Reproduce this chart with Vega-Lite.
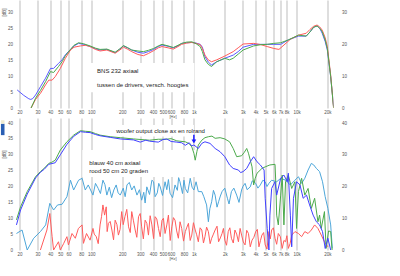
{
 "$schema": "https://vega.github.io/schema/vega-lite/v6.json",
 "background": "white",
 "padding": {"left": 0.5, "top": 0, "right": 0, "bottom": 0},
 "spacing": 10,
 "bounds": "flush",
 "resolve": {"scale": {"color": "independent"}},
 "config": {
  "view": {"stroke": null},
  "font": "Liberation Sans",
  "axis": {"gridColor": "#c8c8c8", "gridWidth": 1.2, "domain": false, "ticks": false, "labelFontSize": 4.5, "labelColor": "#555555", "titleFontSize": 4.5, "titleFontWeight": "normal", "titleColor": "#555555", "labelFont": "Liberation Sans", "titleFont": "Liberation Sans", "labelOverlap": false, "labelFlush": false}
 },
 "datasets": {
  "top": [
   {"s":"b","f":19,"v":5.7},{"s":"b","f":22,"v":4.0},{"s":"b","f":24.7,"v":2.9},{"s":"b","f":25.8,"v":2.7},{"s":"b","f":27,"v":3.0},{"s":"b","f":28.7,"v":4.1},{"s":"b","f":32,"v":6.7},{"s":"b","f":35.9,"v":9.4},{"s":"b","f":40.1,"v":12.5},{"s":"b","f":43,"v":12.5},{"s":"b","f":48,"v":14.1},{"s":"b","f":52,"v":15.2},{"s":"b","f":56,"v":16.8},{"s":"b","f":62.8,"v":18.5},{"s":"b","f":68,"v":19.6},{"s":"b","f":75.3,"v":20.4},{"s":"b","f":84,"v":20.1},{"s":"b","f":97.5,"v":19.4},{"s":"b","f":110,"v":18.7},{"s":"b","f":122,"v":18.3},{"s":"b","f":142,"v":18.5},{"s":"b","f":155,"v":18.0},{"s":"b","f":171,"v":17.5},{"s":"b","f":190,"v":18.6},{"s":"b","f":206,"v":19.6},{"s":"b","f":225,"v":19.0},{"s":"b","f":248,"v":18.3},{"s":"b","f":285,"v":17.6},{"s":"b","f":322,"v":17.3},{"s":"b","f":360,"v":17.8},{"s":"b","f":405,"v":18.5},{"s":"b","f":450,"v":19.4},{"s":"b","f":489,"v":19.9},{"s":"b","f":560,"v":19.5},{"s":"b","f":631,"v":19.0},{"s":"b","f":700,"v":19.6},{"s":"b","f":761,"v":20.4},{"s":"b","f":850,"v":20.6},{"s":"b","f":954,"v":20.7},{"s":"b","f":1050,"v":20.5},{"s":"b","f":1152,"v":20.1},{"s":"b","f":1210,"v":19.2},{"s":"b","f":1282,"v":16.2},{"s":"b","f":1380,"v":14.5},{"s":"b","f":1485,"v":13.6},{"s":"b","f":1668,"v":14.6},{"s":"b","f":2001,"v":15.7},{"s":"b","f":2415,"v":16.7},{"s":"b","f":2700,"v":17.8},{"s":"b","f":3012,"v":19.2},{"s":"b","f":3818,"v":20.1},{"s":"b","f":4500,"v":20.1},{"s":"b","f":5178,"v":20.1},{"s":"b","f":6000,"v":20.1},{"s":"b","f":7006,"v":20.1},{"s":"b","f":8314,"v":21.5},{"s":"b","f":10437,"v":22.7},{"s":"b","f":12420,"v":22.7},{"s":"b","f":13500,"v":24.0},{"s":"b","f":14670,"v":25.5},{"s":"b","f":15840,"v":25.9},{"s":"b","f":16800,"v":25.2},{"s":"b","f":17770,"v":23.6},{"s":"b","f":19000,"v":21.0},{"s":"b","f":19940,"v":18.3},{"s":"b","f":21500,"v":9.9},{"s":"b","f":22950,"v":0.4},
   {"s":"r","f":25.5,"v":-0.5},{"s":"r","f":28.7,"v":2.7},{"s":"r","f":32,"v":4.6},{"s":"r","f":35.9,"v":7.3},{"s":"r","f":38.6,"v":8.8},{"s":"r","f":41.6,"v":8.8},{"s":"r","f":44.6,"v":9.9},{"s":"r","f":50,"v":12.5},{"s":"r","f":56,"v":15.7},{"s":"r","f":62.8,"v":18.3},{"s":"r","f":68,"v":19.2},{"s":"r","f":78.6,"v":19.6},{"s":"r","f":88,"v":19.8},{"s":"r","f":97.5,"v":19.4},{"s":"r","f":110,"v":18.5},{"s":"r","f":122,"v":18.0},{"s":"r","f":142,"v":18.3},{"s":"r","f":171,"v":17.3},{"s":"r","f":190,"v":18.3},{"s":"r","f":206,"v":19.2},{"s":"r","f":225,"v":18.6},{"s":"r","f":248,"v":17.8},{"s":"r","f":285,"v":16.9},{"s":"r","f":322,"v":16.5},{"s":"r","f":360,"v":17.2},{"s":"r","f":405,"v":18.1},{"s":"r","f":450,"v":19.0},{"s":"r","f":489,"v":19.4},{"s":"r","f":560,"v":19.0},{"s":"r","f":631,"v":18.6},{"s":"r","f":700,"v":19.4},{"s":"r","f":761,"v":20.1},{"s":"r","f":850,"v":20.5},{"s":"r","f":954,"v":20.7},{"s":"r","f":1050,"v":20.4},{"s":"r","f":1152,"v":20.0},{"s":"r","f":1210,"v":18.8},{"s":"r","f":1282,"v":16.7},{"s":"r","f":1380,"v":15.2},{"s":"r","f":1485,"v":14.6},{"s":"r","f":1668,"v":15.2},{"s":"r","f":2001,"v":16.4},{"s":"r","f":2415,"v":17.8},{"s":"r","f":2700,"v":19.0},{"s":"r","f":3012,"v":20.2},{"s":"r","f":3818,"v":20.4},{"s":"r","f":4500,"v":20.0},{"s":"r","f":5178,"v":19.4},{"s":"r","f":6000,"v":18.8},{"s":"r","f":6740,"v":18.5},{"s":"r","f":7550,"v":19.9},{"s":"r","f":8700,"v":21.7},{"s":"r","f":10437,"v":23.0},{"s":"r","f":12420,"v":23.6},{"s":"r","f":13500,"v":24.8},{"s":"r","f":14670,"v":25.8},{"s":"r","f":15840,"v":26.2},{"s":"r","f":16800,"v":25.6},{"s":"r","f":17770,"v":24.6},{"s":"r","f":19000,"v":22.2},{"s":"r","f":19940,"v":19.4},{"s":"r","f":21500,"v":10.4},{"s":"r","f":22950,"v":0},
   {"s":"g","f":25.5,"v":-0.5},{"s":"g","f":28.7,"v":3.1},{"s":"g","f":32,"v":5.5},{"s":"g","f":35.9,"v":8.3},{"s":"g","f":40.1,"v":11.5},{"s":"g","f":43,"v":11.2},{"s":"g","f":48,"v":13.1},{"s":"g","f":52,"v":14.6},{"s":"g","f":56,"v":16.5},{"s":"g","f":62.8,"v":18.5},{"s":"g","f":68,"v":19.8},{"s":"g","f":75.3,"v":20.6},{"s":"g","f":84,"v":20.3},{"s":"g","f":97.5,"v":19.6},{"s":"g","f":110,"v":18.9},{"s":"g","f":122,"v":18.5},{"s":"g","f":142,"v":18.6},{"s":"g","f":171,"v":17.6},{"s":"g","f":190,"v":18.7},{"s":"g","f":206,"v":19.7},{"s":"g","f":225,"v":19.1},{"s":"g","f":248,"v":18.3},{"s":"g","f":285,"v":18.0},{"s":"g","f":322,"v":17.8},{"s":"g","f":360,"v":18.2},{"s":"g","f":405,"v":18.8},{"s":"g","f":450,"v":19.6},{"s":"g","f":489,"v":20.1},{"s":"g","f":560,"v":19.6},{"s":"g","f":631,"v":19.1},{"s":"g","f":700,"v":19.8},{"s":"g","f":761,"v":20.4},{"s":"g","f":850,"v":20.8},{"s":"g","f":954,"v":20.9},{"s":"g","f":1050,"v":20.3},{"s":"g","f":1152,"v":19.4},{"s":"g","f":1210,"v":17.8},{"s":"g","f":1282,"v":15.2},{"s":"g","f":1380,"v":13.8},{"s":"g","f":1485,"v":13.1},{"s":"g","f":1668,"v":14.6},{"s":"g","f":2001,"v":15.7},{"s":"g","f":2220,"v":15.2},{"s":"g","f":2415,"v":15.7},{"s":"g","f":2700,"v":17.0},{"s":"g","f":3012,"v":18.3},{"s":"g","f":3818,"v":19.6},{"s":"g","f":4500,"v":20.0},{"s":"g","f":5178,"v":20.1},{"s":"g","f":6000,"v":20.4},{"s":"g","f":7006,"v":20.6},{"s":"g","f":8314,"v":21.5},{"s":"g","f":10437,"v":23.0},{"s":"g","f":12420,"v":22.7},{"s":"g","f":13500,"v":24.0},{"s":"g","f":14670,"v":25.5},{"s":"g","f":15840,"v":25.9},{"s":"g","f":16800,"v":25.2},{"s":"g","f":17770,"v":24.1},{"s":"g","f":19000,"v":21.5},{"s":"g","f":19940,"v":18.8},{"s":"g","f":21500,"v":9.9},{"s":"g","f":22950,"v":0}
  ],
  "bot": [
   {"s":"lb","f":18.7,"v":5.2},{"s":"lb","f":21.2,"v":6.3},{"s":"lb","f":23.8,"v":0},{"s":"lb","f":27.5,"v":3.7},{"s":"lb","f":32,"v":5.8},{"s":"lb","f":36,"v":7.9},{"s":"lb","f":39.5,"v":14.7},{"s":"lb","f":43,"v":12.6},{"s":"lb","f":47,"v":14.2},{"s":"lb","f":52,"v":14.4},{"s":"lb","f":58,"v":16.8},{"s":"lb","f":62.8,"v":22.0},{"s":"lb","f":67.4,"v":18.9},{"s":"lb","f":75.3,"v":22.0},{"s":"lb","f":81.5,"v":22.6},{"s":"lb","f":87.5,"v":18.9},{"s":"lb","f":93.5,"v":20.5},{"s":"lb","f":104,"v":17.3},{"s":"lb","f":117,"v":19.4},{"s":"lb","f":130,"v":22.0},{"s":"lb","f":142,"v":17.3},{"s":"lb","f":166,"v":18.9},{"s":"lb","f":192,"v":17.3},{"s":"lb","f":223,"v":20.5},{"s":"lb","f":248,"v":18.9},{"s":"lb","f":279,"v":17.3},{"s":"lb","f":310,"v":15.7},{"s":"lb","f":348,"v":19.9},{"s":"lb","f":390,"v":22.0},{"s":"lb","f":419,"v":16.8},{"s":"lb","f":470,"v":19.9},{"s":"lb","f":524,"v":21.5},{"s":"lb","f":586,"v":17.9},{"s":"lb","f":655,"v":20.5},{"s":"lb","f":732,"v":21.5},{"s":"lb","f":825,"v":19.4},{"s":"lb","f":921,"v":22.6},{"s":"lb","f":1000,"v":18.9},{"s":"lb","f":1050,"v":21.5},{"s":"lb","f":1105,"v":18.4},{"s":"lb","f":1194,"v":18.4},{"s":"lb","f":1330,"v":14.2},{"s":"lb","f":1384,"v":8.9},{"s":"lb","f":1490,"v":15.2},{"s":"lb","f":1610,"v":17.3},{"s":"lb","f":1740,"v":15.2},{"s":"lb","f":1880,"v":18.4},{"s":"lb","f":2120,"v":16.3},{"s":"lb","f":2320,"v":18.4},{"s":"lb","f":2610,"v":17.3},{"s":"lb","f":2915,"v":18.9},{"s":"lb","f":3150,"v":21.0},{"s":"lb","f":3540,"v":19.9},{"s":"lb","f":4000,"v":21.0},{"s":"lb","f":4440,"v":20.5},{"s":"lb","f":4950,"v":21.5},{"s":"lb","f":5380,"v":21.0},{"s":"lb","f":5720,"v":22.0},{"s":"lb","f":6400,"v":21.5},{"s":"lb","f":7006,"v":22.6},{"s":"lb","f":7810,"v":22.0},{"s":"lb","f":8700,"v":20.5},{"s":"lb","f":9650,"v":22.0},{"s":"lb","f":10430,"v":23.1},{"s":"lb","f":11200,"v":21.0},{"s":"lb","f":12030,"v":22.6},{"s":"lb","f":12950,"v":25.2},{"s":"lb","f":13930,"v":27.3},{"s":"lb","f":14700,"v":26.8},{"s":"lb","f":15600,"v":25.7},{"s":"lb","f":16760,"v":24.7},{"s":"lb","f":17900,"v":21.5},{"s":"lb","f":19000,"v":16.8},{"s":"lb","f":20200,"v":13.1},{"s":"lb","f":21500,"v":7.9},{"s":"lb","f":22300,"v":0.5},
   {"s":"lb","f":110,"v":21.0},{"s":"lb","f":123,"v":17.8},{"s":"lb","f":136,"v":20.6},{"s":"lb","f":150,"v":19.8},{"s":"lb","f":158,"v":16.5},{"s":"lb","f":175,"v":20.5},{"s":"lb","f":183,"v":18.0},{"s":"lb","f":205,"v":19.5},{"s":"lb","f":214,"v":16.8},{"s":"lb","f":235,"v":21.3},{"s":"lb","f":262,"v":20.2},{"s":"lb","f":295,"v":19.0},{"s":"lb","f":325,"v":18.2},{"s":"lb","f":335,"v":14.8},{"s":"lb","f":370,"v":17.5},{"s":"lb","f":405,"v":21.5},{"s":"lb","f":440,"v":18.0},{"s":"lb","f":455,"v":21.0},{"s":"lb","f":495,"v":17.2},{"s":"lb","f":545,"v":19.0},{"s":"lb","f":565,"v":22.2},{"s":"lb","f":620,"v":16.5},{"s":"lb","f":690,"v":18.8},{"s":"lb","f":710,"v":22.8},{"s":"lb","f":775,"v":17.8},{"s":"lb","f":800,"v":22.0},{"s":"lb","f":870,"v":18.0},{"s":"lb","f":960,"v":19.8},{"s":"lb","f":1250,"v":16.8},{"s":"lb","f":1430,"v":13.0},{"s":"lb","f":1550,"v":18.8},{"s":"lb","f":1680,"v":13.5},{"s":"lb","f":1810,"v":17.0},{"s":"lb","f":2000,"v":19.5},{"s":"lb","f":2200,"v":14.5},{"s":"lb","f":2450,"v":19.5},{"s":"lb","f":2750,"v":15.0},{"s":"lb","f":3000,"v":20.0},{"s":"lb","f":3300,"v":19.0},{"s":"lb","f":3700,"v":21.8},{"s":"lb","f":4200,"v":19.5},{"s":"lb","f":4700,"v":22.0},{"s":"lb","f":5150,"v":20.0},
   {"s":"r","f":32,"v":0},{"s":"r","f":37,"v":6.3},{"s":"r","f":39.5,"v":11.5},{"s":"r","f":41.6,"v":4.2},{"s":"r","f":43,"v":0},{"s":"r","f":48,"v":2.6},{"s":"r","f":50,"v":0},{"s":"r","f":54,"v":2.1},{"s":"r","f":58,"v":4.2},{"s":"r","f":60,"v":1.6},{"s":"r","f":65,"v":5.2},{"s":"r","f":70,"v":3.7},{"s":"r","f":75,"v":6.8},{"s":"r","f":81.5,"v":7.9},{"s":"r","f":84,"v":2.1},{"s":"r","f":90,"v":5.2},{"s":"r","f":97.5,"v":3.1},{"s":"r","f":104,"v":6.8},{"s":"r","f":112,"v":4.2},{"s":"r","f":122,"v":7.9},{"s":"r","f":130,"v":14.2},{"s":"r","f":140,"v":13.6},{"s":"r","f":147,"v":8.4},{"s":"r","f":159,"v":6.3},{"s":"r","f":171,"v":9.4},{"s":"r","f":184,"v":4.7},{"s":"r","f":198,"v":12.1},{"s":"r","f":213,"v":10.5},{"s":"r","f":231,"v":7.3},{"s":"r","f":248,"v":12.1},{"s":"r","f":268,"v":6.3},{"s":"r","f":289,"v":10.5},{"s":"r","f":310,"v":7.3},{"s":"r","f":335,"v":9.4},{"s":"r","f":361,"v":4.7},{"s":"r","f":390,"v":7.9},{"s":"r","f":419,"v":10.5},{"s":"r","f":452,"v":6.8},{"s":"r","f":489,"v":9.4},{"s":"r","f":524,"v":5.2},{"s":"r","f":565,"v":11.0},{"s":"r","f":610,"v":7.3},{"s":"r","f":655,"v":9.4},{"s":"r","f":706,"v":3.7},{"s":"r","f":761,"v":6.8},{"s":"r","f":825,"v":5.8},{"s":"r","f":885,"v":8.4},{"s":"r","f":954,"v":4.7},{"s":"r","f":1030,"v":6.3},{"s":"r","f":1105,"v":2.6},{"s":"r","f":1194,"v":6.3},{"s":"r","f":1282,"v":4.2},{"s":"r","f":1384,"v":5.8},{"s":"r","f":1490,"v":3.7},{"s":"r","f":1610,"v":6.3},{"s":"r","f":1740,"v":2.6},{"s":"r","f":1880,"v":5.2},{"s":"r","f":2001,"v":3.1},{"s":"r","f":2160,"v":5.8},{"s":"r","f":2320,"v":3.7},{"s":"r","f":2510,"v":6.3},{"s":"r","f":2715,"v":2.6},{"s":"r","f":2915,"v":4.7},{"s":"r","f":3150,"v":1.6},{"s":"r","f":3400,"v":5.2},{"s":"r","f":3685,"v":3.1},{"s":"r","f":4000,"v":5.8},{"s":"r","f":4300,"v":1.0},{"s":"r","f":4600,"v":4.7},{"s":"r","f":4950,"v":1.6},{"s":"r","f":5380,"v":5.8},{"s":"r","f":5720,"v":6.3},{"s":"r","f":6170,"v":3.7},{"s":"r","f":6640,"v":5.2},{"s":"r","f":7250,"v":0.5},{"s":"r","f":7810,"v":2.6},{"s":"r","f":8314,"v":0.5},{"s":"r","f":8970,"v":4.7},{"s":"r","f":9650,"v":5.8},{"s":"r","f":10430,"v":5.2},{"s":"r","f":11200,"v":4.2},{"s":"r","f":12030,"v":5.8},{"s":"r","f":12950,"v":5.2},{"s":"r","f":13930,"v":6.3},{"s":"r","f":15000,"v":7.9},{"s":"r","f":16150,"v":6.8},{"s":"r","f":17400,"v":4.7},{"s":"r","f":18700,"v":2.6},{"s":"r","f":20200,"v":1.0},
   {"s":"r","f":107,"v":5.0},{"s":"r","f":117,"v":2.0},{"s":"r","f":126,"v":10.5},{"s":"r","f":135,"v":11.0},{"s":"r","f":143,"v":5.8},{"s":"r","f":153,"v":9.0},{"s":"r","f":165,"v":3.2},{"s":"r","f":178,"v":8.0},{"s":"r","f":191,"v":6.5},{"s":"r","f":205,"v":8.0},{"s":"r","f":222,"v":12.8},{"s":"r","f":240,"v":5.5},{"s":"r","f":258,"v":9.2},{"s":"r","f":278,"v":4.0},{"s":"r","f":300,"v":11.5},{"s":"r","f":322,"v":3.5},{"s":"r","f":348,"v":8.4},{"s":"r","f":375,"v":10.8},{"s":"r","f":405,"v":3.6},{"s":"r","f":435,"v":9.8},{"s":"r","f":470,"v":4.2},{"s":"r","f":505,"v":10.0},{"s":"r","f":545,"v":7.9},{"s":"r","f":588,"v":3.0},{"s":"r","f":632,"v":10.2},{"s":"r","f":680,"v":6.0},{"s":"r","f":733,"v":8.9},{"s":"r","f":793,"v":2.8},{"s":"r","f":855,"v":7.2},{"s":"r","f":920,"v":3.0},{"s":"r","f":990,"v":8.6},{"s":"r","f":1065,"v":4.8},{"s":"r","f":1150,"v":7.0},{"s":"r","f":1240,"v":2.2},{"s":"r","f":1330,"v":7.2},{"s":"r","f":1440,"v":2.0},{"s":"r","f":1550,"v":5.0},{"s":"r","f":1680,"v":7.5},{"s":"r","f":1810,"v":3.8},{"s":"r","f":1940,"v":6.8},{"s":"r","f":2080,"v":1.5},{"s":"r","f":2240,"v":7.0},{"s":"r","f":2420,"v":2.2},{"s":"r","f":2610,"v":5.0},{"s":"r","f":2820,"v":6.8},{"s":"r","f":3030,"v":2.5},{"s":"r","f":3270,"v":6.2},{"s":"r","f":3540,"v":1.0},{"s":"r","f":3840,"v":4.0},{"s":"r","f":4150,"v":6.5},{"s":"r","f":4450,"v":3.0},{"s":"r","f":4780,"v":5.5},{"s":"r","f":5150,"v":0.3},{"s":"r","f":5550,"v":3.5},{"s":"r","f":5950,"v":7.0},{"s":"r","f":6400,"v":1.8},{"s":"r","f":6950,"v":4.2},{"s":"r","f":7530,"v":3.0},{"s":"r","f":8050,"v":4.5},{"s":"r","f":8650,"v":2.0},
   {"s":"g","f":18.7,"v":9.5},{"s":"g","f":20.5,"v":13.6},{"s":"g","f":23.8,"v":18.4},{"s":"g","f":28.7,"v":23.1},{"s":"g","f":32,"v":24.7},{"s":"g","f":35,"v":25.8},{"s":"g","f":38.6,"v":27.3},{"s":"g","f":41,"v":27.6},{"s":"g","f":44.6,"v":28.3},{"s":"g","f":50,"v":31.5},{"s":"g","f":58,"v":34.1},{"s":"g","f":67.4,"v":36.2},{"s":"g","f":78.6,"v":37.6},{"s":"g","f":88,"v":37.4},{"s":"g","f":97.5,"v":37.3},{"s":"g","f":110,"v":36.7},{"s":"g","f":122,"v":36.2},{"s":"g","f":153,"v":35.7},{"s":"g","f":192,"v":35.4},{"s":"g","f":258,"v":35.0},{"s":"g","f":370,"v":34.6},{"s":"g","f":450,"v":34.9},{"s":"g","f":544,"v":34.9},{"s":"g","f":600,"v":35.1},{"s":"g","f":682,"v":34.4},{"s":"g","f":825,"v":34.1},{"s":"g","f":900,"v":33.5},{"s":"g","f":954,"v":32.5},{"s":"g","f":1000,"v":30.5},{"s":"g","f":1030,"v":28.3},{"s":"g","f":1070,"v":31.0},{"s":"g","f":1105,"v":33.1},{"s":"g","f":1194,"v":34.6},{"s":"g","f":1282,"v":35.4},{"s":"g","f":1384,"v":35.7},{"s":"g","f":1500,"v":35.9},{"s":"g","f":1610,"v":35.2},{"s":"g","f":1800,"v":35.4},{"s":"g","f":2001,"v":35.0},{"s":"g","f":2227,"v":34.1},{"s":"g","f":2415,"v":32.0},{"s":"g","f":2612,"v":29.4},{"s":"g","f":2915,"v":29.7},{"s":"g","f":3100,"v":30.8},{"s":"g","f":3270,"v":32.0},{"s":"g","f":3400,"v":30.5},{"s":"g","f":3685,"v":26.2},{"s":"g","f":3818,"v":20.5},{"s":"g","f":3950,"v":22.5},{"s":"g","f":4123,"v":24.2},{"s":"g","f":4600,"v":25.7},{"s":"g","f":4950,"v":26.2},{"s":"g","f":5500,"v":26.8},{"s":"g","f":6170,"v":27.0},{"s":"g","f":6300,"v":20.0},{"s":"g","f":6400,"v":11.0},{"s":"g","f":6640,"v":7.9},{"s":"g","f":7006,"v":17.3},{"s":"g","f":7250,"v":23.6},{"s":"g","f":7530,"v":7.9},{"s":"g","f":7810,"v":21.5},{"s":"g","f":8314,"v":23.6},{"s":"g","f":8970,"v":19.4},{"s":"g","f":9650,"v":21.5},{"s":"g","f":10000,"v":6.8},{"s":"g","f":10430,"v":18.4},{"s":"g","f":11200,"v":22.6},{"s":"g","f":12030,"v":17.3},{"s":"g","f":12950,"v":19.4},{"s":"g","f":13930,"v":13.1},{"s":"g","f":15000,"v":16.3},{"s":"g","f":16150,"v":8.9},{"s":"g","f":16760,"v":11.0},{"s":"g","f":17400,"v":6.8},{"s":"g","f":18700,"v":12.1},{"s":"g","f":19400,"v":0.5},{"s":"g","f":20500,"v":6.0},{"s":"g","f":21500,"v":5.8},{"s":"g","f":22300,"v":-1},
   {"s":"b","f":18.7,"v":7.9},{"s":"b","f":20.5,"v":12.6},{"s":"b","f":23.8,"v":17.6},{"s":"b","f":28.7,"v":22.7},{"s":"b","f":32,"v":24.5},{"s":"b","f":35,"v":25.5},{"s":"b","f":38.6,"v":27.0},{"s":"b","f":44.6,"v":27.5},{"s":"b","f":50,"v":30.0},{"s":"b","f":58,"v":33.3},{"s":"b","f":67.4,"v":35.8},{"s":"b","f":78.6,"v":37.3},{"s":"b","f":88,"v":37.1},{"s":"b","f":97.5,"v":37.0},{"s":"b","f":110,"v":36.4},{"s":"b","f":122,"v":36.0},{"s":"b","f":153,"v":35.5},{"s":"b","f":192,"v":35.0},{"s":"b","f":258,"v":34.7},{"s":"b","f":300,"v":34.0},{"s":"b","f":340,"v":34.6},{"s":"b","f":370,"v":34.3},{"s":"b","f":450,"v":34.0},{"s":"b","f":500,"v":34.8},{"s":"b","f":544,"v":35.0},{"s":"b","f":600,"v":34.2},{"s":"b","f":682,"v":34.0},{"s":"b","f":760,"v":33.8},{"s":"b","f":825,"v":33.0},{"s":"b","f":900,"v":33.8},{"s":"b","f":954,"v":32.8},{"s":"b","f":1000,"v":33.1},{"s":"b","f":1105,"v":32.0},{"s":"b","f":1194,"v":33.6},{"s":"b","f":1282,"v":34.1},{"s":"b","f":1435,"v":33.6},{"s":"b","f":1610,"v":32.0},{"s":"b","f":1795,"v":31.0},{"s":"b","f":2001,"v":29.4},{"s":"b","f":2227,"v":26.8},{"s":"b","f":2415,"v":25.7},{"s":"b","f":2715,"v":25.2},{"s":"b","f":2850,"v":24.4},{"s":"b","f":3012,"v":24.7},{"s":"b","f":3270,"v":25.7},{"s":"b","f":3540,"v":27.8},{"s":"b","f":3818,"v":29.4},{"s":"b","f":4123,"v":27.8},{"s":"b","f":4440,"v":26.8},{"s":"b","f":4830,"v":25.2},{"s":"b","f":4950,"v":16.3},{"s":"b","f":5178,"v":6.8},{"s":"b","f":5380,"v":0},{"s":"b","f":5500,"v":11.0},{"s":"b","f":5720,"v":19.4},{"s":"b","f":6170,"v":21.5},{"s":"b","f":6400,"v":17.3},{"s":"b","f":7006,"v":22.6},{"s":"b","f":7530,"v":23.6},{"s":"b","f":8130,"v":21.5},{"s":"b","f":8314,"v":24.2},{"s":"b","f":8700,"v":11.0},{"s":"b","f":8970,"v":1.0},{"s":"b","f":9330,"v":16.3},{"s":"b","f":10000,"v":21.5},{"s":"b","f":10800,"v":20.5},{"s":"b","f":11600,"v":16.3},{"s":"b","f":12500,"v":17.3},{"s":"b","f":13400,"v":14.2},{"s":"b","f":14500,"v":11.0},{"s":"b","f":15600,"v":8.9},{"s":"b","f":16760,"v":7.9},{"s":"b","f":17900,"v":5.8},{"s":"b","f":19000,"v":0.5},{"s":"b","f":20200,"v":3.7},{"s":"b","f":21500,"v":0}
  ]
 },
 "vconcat": [
  {
   "width": 318, "height": 108,
   "resolve": {"axis": {"y": "independent"}},
   "layer": [
    {
     "data": {"values": [{"f": 98, "f2": 1010, "v": 5.0, "v2": 14.2}]},
     "mark": {"type": "rect", "color": "white"},
     "encoding": {
      "x": {"field": "f", "type": "quantitative", "scale": {"type": "log", "domain": [18.3, 22900], "nice": false}},
      "x2": {"field": "f2"},
      "y": {"field": "v", "type": "quantitative", "scale": {"domain": [0, 34.1], "nice": false, "zero": false}, "axis": {"orient": "right", "values": [0, 10, 20, 30], "grid": false, "title": null, "labelPadding": 8}},
      "y2": {"field": "v2"}
     }
    },
    {
     "data": {"name": "top"},
     "mark": {"type": "line", "strokeWidth": 1, "clip": true},
     "encoding": {
      "x": {"field": "f", "type": "quantitative", "scale": {"type": "log", "domain": [18.3, 22900], "nice": false}, "axis": {"values": [20,30,40,50,60,80,100,200,300,400,500,600,800,1000,2000,3000,4000,5000,6000,7000,8000,10000,20000], "labelExpr": "datum.value >= 1000 ? (datum.value / 1000) + 'k' : '' + datum.value", "labelPadding": 1.5, "title": "[Hz]", "titleFontSize": 4, "titleX": 157, "titleY": 8.8, "titleAlign": "center", "titleBaseline": "middle"}},
      "y": {"field": "v", "type": "quantitative", "scale": {"domain": [0, 34.1], "nice": false, "zero": false}, "axis": {"orient": "left", "values": [0, 5, 10, 15, 20, 25, 30], "labelPadding": 3, "title": "[dB]", "titleX": -11, "titleY": 12, "titleAngle": -90, "titleAlign": "center", "titleBaseline": "middle"}},
      "color": {"field": "s", "type": "nominal", "scale": {"domain": ["r", "g", "b"], "range": ["#ff5a5a", "#4caa4c", "#5a5aff"]}, "legend": null}
     }
    },
    {
     "data": {"values": [{"f": 114, "v": 11.7, "t": "BNS 232 axiaal"}, {"f": 114, "v": 7.3, "t": "tussen de drivers, versch. hoogtes"}]},
     "mark": {"type": "text", "align": "left", "baseline": "middle", "fontSize": 6, "color": "#222222", "font": "Liberation Sans"},
     "encoding": {
      "x": {"field": "f", "type": "quantitative", "scale": {"type": "log", "domain": [18.3, 22900], "nice": false}},
      "y": {"field": "v", "type": "quantitative", "scale": {"domain": [0, 34.1], "nice": false, "zero": false}, "axis": null},
      "text": {"field": "t"}
     }
    }
   ]
  },
  {
   "width": 318, "height": 132,
   "resolve": {"axis": {"y": "independent"}},
   "layer": [
    {
     "data": {"values": [{"f": 82, "f2": 1040, "v": 23.0, "v2": 31.5}, {"f": 172, "f2": 1000, "v": 35.8, "v2": 39.4}]},
     "mark": {"type": "rect", "color": "white"},
     "encoding": {
      "x": {"field": "f", "type": "quantitative", "scale": {"type": "log", "domain": [18.3, 22900], "nice": false}},
      "x2": {"field": "f2"},
      "y": {"field": "v", "type": "quantitative", "scale": {"domain": [0, 41.6], "nice": false, "zero": false}, "axis": {"orient": "right", "values": [0, 10, 20, 30, 40], "grid": false, "title": null, "labelPadding": 8}},
      "y2": {"field": "v2"}
     }
    },
    {
     "data": {"values": [{"f": 13.2, "f2": 14.3, "v": 36.2, "v2": 39.8, "c": "icon"}, {"f": 13.2, "f2": 14.3, "v": 39.8, "v2": 40.9, "c": "strip"}]},
     "mark": {"type": "rect"},
     "encoding": {
      "x": {"field": "f", "type": "quantitative", "scale": {"type": "log", "domain": [18.3, 22900], "nice": false}},
      "x2": {"field": "f2"},
      "y": {"field": "v", "type": "quantitative", "scale": {"domain": [0, 41.6], "nice": false, "zero": false}, "axis": null},
      "y2": {"field": "v2"},
      "fill": {"field": "c", "type": "nominal", "scale": {"domain": ["icon", "strip"], "range": ["#2b5fb3", "#eeead0"]}, "legend": null}
     }
    },
    {
     "data": {"name": "bot"},
     "mark": {"type": "line", "strokeWidth": 1, "clip": true},
     "encoding": {
      "x": {"field": "f", "type": "quantitative", "scale": {"type": "log", "domain": [18.3, 22900], "nice": false}, "axis": {"values": [20,30,40,50,60,80,100,200,300,400,500,600,800,1000,2000,3000,4000,5000,6000,7000,8000,10000,20000], "labelExpr": "datum.value >= 1000 ? (datum.value / 1000) + 'k' : '' + datum.value", "labelPadding": 1.5, "title": "[Hz]", "titleFontSize": 4, "titleX": 157, "titleY": 8.8, "titleAlign": "center", "titleBaseline": "middle"}},
      "y": {"field": "v", "type": "quantitative", "scale": {"domain": [0, 41.6], "nice": false, "zero": false}, "axis": {"orient": "left", "values": [0, 5, 10, 15, 20, 25, 30, 35, 40], "labelPadding": 3, "title": "[dB]", "titleX": -11, "titleY": 36, "titleAngle": -90, "titleAlign": "center", "titleBaseline": "middle"}},
      "color": {"field": "s", "type": "nominal", "scale": {"domain": ["lb", "r", "g", "b"], "range": ["#4da6d9", "#ff5c5c", "#4caa4c", "#4040ff"]}, "legend": null}
     }
    },
    {
     "data": {"values": [{"f": 1000, "v": 36.3, "v2": 34.5}]},
     "mark": {"type": "rule", "color": "#1a1aff", "strokeWidth": 1.5},
     "encoding": {
      "x": {"field": "f", "type": "quantitative", "scale": {"type": "log", "domain": [18.3, 22900], "nice": false}},
      "y": {"field": "v", "type": "quantitative", "scale": {"domain": [0, 41.6], "nice": false, "zero": false}, "axis": null},
      "y2": {"field": "v2"}
     }
    },
    {
     "data": {"values": [{"f": 1000, "v": 34.2}]},
     "mark": {"type": "point", "shape": "triangle-down", "filled": true, "color": "#1a1aff", "size": 22, "opacity": 1},
     "encoding": {
      "x": {"field": "f", "type": "quantitative", "scale": {"type": "log", "domain": [18.3, 22900], "nice": false}},
      "y": {"field": "v", "type": "quantitative", "scale": {"domain": [0, 41.6], "nice": false, "zero": false}, "axis": null}
     }
    },
    {
     "data": {"values": [{"f": 175, "v": 37.4, "t": "woofer output close ax en rolrand"}, {"f": 95.7, "v": 27.3, "t": "blauw 40 cm axiaal"}, {"f": 95.7, "v": 24.9, "t": "rood 50 cm 20 graden"}]},
     "mark": {"type": "text", "align": "left", "baseline": "middle", "fontSize": 6, "color": "#222222", "font": "Liberation Sans"},
     "encoding": {
      "x": {"field": "f", "type": "quantitative", "scale": {"type": "log", "domain": [18.3, 22900], "nice": false}},
      "y": {"field": "v", "type": "quantitative", "scale": {"domain": [0, 41.6], "nice": false, "zero": false}, "axis": null},
      "text": {"field": "t"}
     }
    }
   ]
  }
 ]
}
